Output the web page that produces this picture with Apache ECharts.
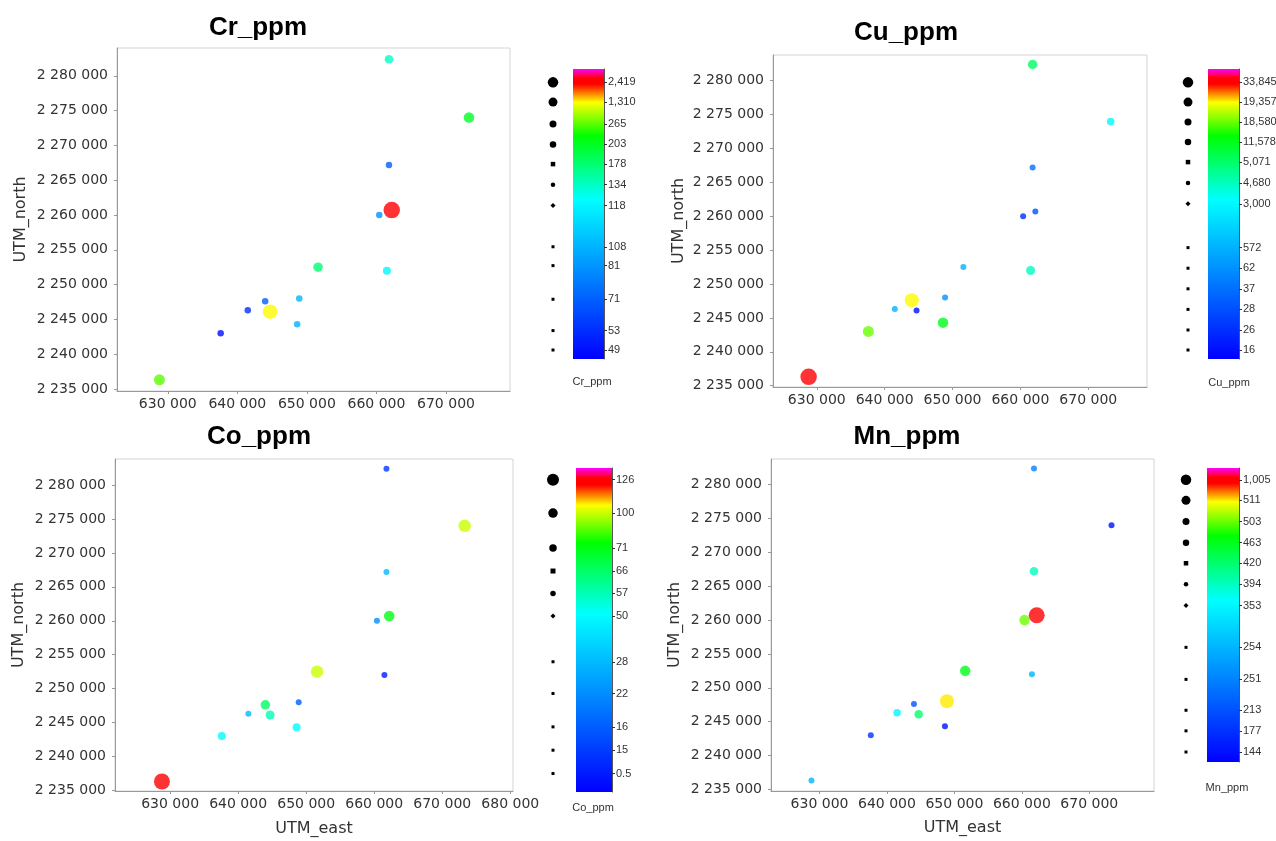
<!DOCTYPE html>
<html>
<head>
<meta charset="utf-8">
<title>Cr / Cu / Co / Mn ppm</title>
<script src="https://cdn.jsdelivr.net/npm/echarts@6/dist/echarts.min.js"></script>
<style>
  html, body { margin: 0; padding: 0; background: #fff; }
  #chart { width: 1276px; height: 841px; }
</style>
</head>
<body>
<div id="chart"></div>
<script>
// sample locations (UTM), the same 14 points on every panel
var east = [661800, 673300, 661800, 660400, 662200, 651600, 661500, 648900, 644000, 641500, 644700, 648600, 637600, 628800];
var north = [2282400, 2274000, 2267200, 2260000, 2260700, 2252500, 2252000, 2248000, 2247600, 2246300, 2246100, 2244300, 2243000, 2236300];

// measured values at each point (same order as east / north)
var crValues = [134, 203, 71, 81, 2419, 178, 118, 108, 71, 53, 1310, 108, 49, 265];
var cuValues = [5071, 3000, 37, 26, 28, 572, 4680, 62, 19357, 572, 16, 11578, 18580, 33845];
var coValues = [15, 100, 28, 22, 71, 100, 0.5, 16, 66, 28, 57, 50, 50, 126];
var mnValues = [251, 144, 394, 503, 1005, 463, 254, 511, 213, 353, 420, 144, 177, 254];

// colour bar class labels, top to bottom
var crTicks = [2419, 1310, 265, 203, 178, 134, 118, 108, 81, 71, 53, 49];
var cuTicks = [33845, 19357, 18580, 11578, 5071, 4680, 3000, 572, 62, 37, 28, 26, 16];
var coTicks = [126, 100, 71, 66, 57, 50, 28, 22, 16, 15, 0.5];
var mnTicks = [1005, 511, 503, 463, 420, 394, 353, 254, 251, 213, 177, 144];

// where each class label sits on its colour bar (0 = bottom, 1 = top)
var crLevels = [0.954, 0.886, 0.810, 0.740, 0.672, 0.601, 0.529, 0.387, 0.322, 0.206, 0.098, 0.031];
var cuLevels = [0.954, 0.886, 0.817, 0.748, 0.679, 0.607, 0.535, 0.384, 0.313, 0.242, 0.171, 0.100, 0.031];
var coLevels = [0.964, 0.861, 0.753, 0.682, 0.613, 0.543, 0.402, 0.304, 0.201, 0.129, 0.057];
var mnLevels = [0.960, 0.890, 0.818, 0.746, 0.676, 0.605, 0.532, 0.390, 0.281, 0.176, 0.106, 0.034];

// axis tick values
var eastTicks = [630000, 640000, 650000, 660000, 670000];
var eastTicksWide = [630000, 640000, 650000, 660000, 670000, 680000];
var northTicks = [2235000, 2240000, 2245000, 2250000, 2255000, 2260000, 2265000, 2270000, 2275000, 2280000];

// rainbow used by the colour bars (0 = bottom/blue, 1 = top/magenta)
var rainbowStops = [[0, "#0000ff"], [0.55, "#00ffff"], [0.77, "#00ff00"], [0.885, "#ffff00"], [0.948, "#ff0000"], [0.968, "#ff0000"], [1, "#ff00ff"]];

function hexToRgb(h) {
  return [parseInt(h.substr(1, 2), 16), parseInt(h.substr(3, 2), 16), parseInt(h.substr(5, 2), 16)];
}
function rainbowAt(t) {
  for (var i = 1; i < rainbowStops.length; i++) {
    if (t <= rainbowStops[i][0]) {
      var a = rainbowStops[i - 1], b = rainbowStops[i];
      var f = (t - a[0]) / (b[0] - a[0]);
      var ca = hexToRgb(a[1]), cb = hexToRgb(b[1]);
      return "rgb(" + ca.map(function (c, k) { return Math.round(c + (cb[k] - c) * f); }).join(",") + ")";
    }
  }
  return rainbowStops[rainbowStops.length - 1][1];
}
var rainbowList = [];
for (var s = 0; s <= 250; s++) rainbowList.push(rainbowAt(s / 250));

function spaced(v) {
  return String(v).replace(/\B(?=(\d{3})+(?!\d))/g, " ");
}

var TICK_FONT = "DejaVu Sans";
var BAR_FONT = "'Liberation Sans', sans-serif";

var panels = [
  {
    name: "Cr_ppm", values: crValues, ticks: crTicks, levels: crLevels,
    sizes: [16.5, 14.5, 11, 10.5, 9.5, 8.5, 8, 6.5, 6.5, 6.5, 6.5, 6.5],
    dotSizes: [10.5, 9, 7, 6.5, 4.5, 4.5, 5], dotSymbols: ["circle", "circle", "circle", "circle", "rect", "circle", "diamond"],
    grid: { left: 117, top: 48, width: 393, height: 343 },
    xRange: [622700, 679200], yRange: [2234700, 2284000], xTicks: eastTicks,
    yNameGap: 88, xName: "",
    title: [258, 28], bar: { left: 573, top: 69, width: 31, height: 290 }, dotX: 553, caption: [592, 382]
  },
  {
    name: "Cu_ppm", values: cuValues, ticks: cuTicks, levels: cuLevels,
    sizes: [16.5, 14, 11, 10.5, 9.5, 9, 7.5, 6, 6, 6, 6, 6, 6],
    dotSizes: [10.5, 9, 7, 6.5, 4.5, 4.5, 5], dotSymbols: ["circle", "circle", "circle", "circle", "rect", "circle", "diamond"],
    grid: { left: 773, top: 55, width: 374, height: 332 },
    xRange: [623550, 678650], yRange: [2234800, 2283800], xTicks: eastTicks,
    yNameGap: 86, xName: "",
    title: [906, 33], bar: { left: 1208, top: 69, width: 31, height: 290 }, dotX: 1188, caption: [1229, 383]
  },
  {
    name: "Co_ppm", values: coValues, ticks: coTicks, levels: coLevels,
    sizes: [16, 12.5, 10.5, 9.5, 9, 8, 6, 6, 6, 6, 6],
    dotSizes: [12, 9.5, 7.5, 5, 5.5, 5], dotSymbols: ["circle", "circle", "circle", "rect", "circle", "diamond"],
    grid: { left: 115, top: 459, width: 398, height: 332 },
    xRange: [621900, 680400], yRange: [2234900, 2283850], xTicks: eastTicksWide,
    yNameGap: 88, xName: "UTM_east", xNameGap: 30,
    title: [259, 437], bar: { left: 576, top: 468, width: 36, height: 324 }, dotX: 553, caption: [593, 808]
  },
  {
    name: "Mn_ppm", values: mnValues, ticks: mnTicks, levels: mnLevels,
    sizes: [16, 14, 10.5, 10.5, 8.5, 8.5, 7.5, 6, 6, 6, 6, 6],
    dotSizes: [10.5, 9, 7, 6.5, 4.5, 4.5, 5], dotSymbols: ["circle", "circle", "circle", "circle", "rect", "circle", "diamond"],
    grid: { left: 771, top: 459, width: 383, height: 332 },
    xRange: [622800, 679600], yRange: [2234750, 2283800], xTicks: eastTicks,
    yNameGap: 88, xName: "UTM_east", xNameGap: 29,
    title: [907, 437], bar: { left: 1207, top: 468, width: 32, height: 294 }, dotX: 1186, caption: [1227, 788]
  }
];

var grids = [], xAxes = [], yAxes = [], series = [], graphics = [];

// main scatter panels: grid / axis index 0..3, series 0..3
panels.forEach(function (p, i) {
  grids.push({
    left: p.grid.left, top: p.grid.top, width: p.grid.width, height: p.grid.height,
    show: true, borderColor: "#d4d4d4", borderWidth: 1, backgroundColor: "#fff",
    containLabel: false, outerBoundsMode: "none"
  });
  xAxes.push({
    type: "value", gridIndex: i, min: p.xRange[0], max: p.xRange[1],
    name: p.xName, nameLocation: "middle", nameGap: p.xNameGap || 30,
    nameTextStyle: { fontFamily: TICK_FONT, fontSize: 16, color: "#333" },
    axisLine: { show: true, lineStyle: { color: "#999" } },
    axisTick: { show: true, length: 3, customValues: p.xTicks, lineStyle: { color: "#999" } },
    axisLabel: { customValues: p.xTicks, formatter: spaced, margin: 6, fontFamily: TICK_FONT, fontSize: 14, color: "#333" },
    splitLine: { show: false }
  });
  yAxes.push({
    type: "value", gridIndex: i, min: p.yRange[0], max: p.yRange[1],
    name: "UTM_north", nameLocation: "middle", nameGap: p.yNameGap,
    nameTextStyle: { fontFamily: TICK_FONT, fontSize: 16, color: "#333" },
    axisLine: { show: true, lineStyle: { color: "#999" } },
    axisTick: { show: true, length: 3, customValues: northTicks, lineStyle: { color: "#999" } },
    axisLabel: { customValues: northTicks, formatter: spaced, margin: 9, fontFamily: TICK_FONT, fontSize: 14, color: "#333" },
    splitLine: { show: false }
  });
  series.push({
    type: "scatter", name: p.name, xAxisIndex: i, yAxisIndex: i,
    symbol: "circle",
    symbolSize: function (d) { return p.sizes[p.ticks.indexOf(d[2])]; },
    data: p.values.map(function (v, k) {
      return [east[k], north[k], v, p.levels[p.ticks.indexOf(v)]];
    })
  });
  graphics.push({
    type: "text", x: p.title[0], y: p.title[1],
    style: { text: p.name, fill: "#000", font: "bold 26px 'Liberation Sans', Arial, sans-serif", textAlign: "center", textVerticalAlign: "middle" }
  });
  graphics.push({
    type: "text", x: p.caption[0], y: p.caption[1],
    style: { text: p.name, fill: "#333", font: "11px " + BAR_FONT, textAlign: "center", textVerticalAlign: "middle" }
  });
});

// colour bars: grid / axis index 4..7
panels.forEach(function (p, i) {
  var gi = 4 + i;
  grids.push({
    left: p.bar.left, top: p.bar.top, width: p.bar.width, height: p.bar.height,
    containLabel: false, outerBoundsMode: "none"
  });
  xAxes.push({ type: "category", gridIndex: gi, data: [p.name], show: false, boundaryGap: true });
  yAxes.push({
    type: "value", gridIndex: gi, min: 0, max: 1, position: "right",
    axisLine: { show: true, lineStyle: { color: "#555" } },
    axisTick: { show: true, length: 3, customValues: p.levels, lineStyle: { color: "#333" } },
    axisLabel: {
      customValues: p.levels, margin: 4, fontFamily: BAR_FONT, fontSize: 11, color: "#333",
      formatter: function (v) {
        var best = 0;
        p.levels.forEach(function (l, k) { if (Math.abs(l - v) < Math.abs(p.levels[best] - v)) best = k; });
        return p.ticks[best].toLocaleString("en-US");
      }
    },
    splitLine: { show: false }
  });
  var stops = rainbowStops.map(function (st) { return { offset: 1 - st[0], color: st[1] }; }).reverse();
  series.push({
    type: "bar", xAxisIndex: gi, yAxisIndex: gi, barWidth: "100%", silent: true,
    itemStyle: { color: new echarts.graphic.LinearGradient(0, 0, 0, 1, stops) },
    data: [1]
  });
});

// size legend dots: grid / axis index 8..11
panels.forEach(function (p, i) {
  var gi = 8 + i;
  grids.push({
    left: p.dotX - 10, top: p.bar.top, width: 20, height: p.bar.height,
    containLabel: false, outerBoundsMode: "none"
  });
  xAxes.push({ type: "category", gridIndex: gi, data: ["size"], show: false });
  yAxes.push({ type: "value", gridIndex: gi, min: 0, max: 1, show: false });
  series.push({
    type: "scatter", xAxisIndex: gi, yAxisIndex: gi, silent: true,
    itemStyle: { color: "#000", opacity: 1 },
    data: p.levels.map(function (l, k) {
      return {
        value: ["size", l],
        symbol: k < p.dotSymbols.length ? p.dotSymbols[k] : "rect",
        symbolSize: k < p.dotSizes.length ? p.dotSizes[k] : 3
      };
    })
  });
});

var chart = echarts.init(document.getElementById("chart"), null, { renderer: "canvas" });
chart.setOption({
  backgroundColor: "#fff",
  animation: false,
  grid: grids,
  xAxis: xAxes,
  yAxis: yAxes,
  visualMap: [{
    type: "continuous", show: false, seriesIndex: [0, 1, 2, 3], dimension: 3,
    min: 0, max: 1, inRange: { color: rainbowList }
  }],
  graphic: graphics,
  series: series
});
</script>
</body>
</html>
